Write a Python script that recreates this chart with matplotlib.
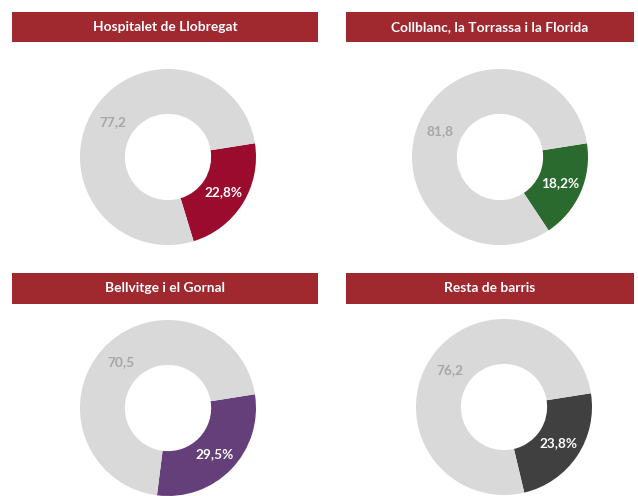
import matplotlib.pyplot as plt
import numpy as np

# values
titles = ['Hospitalet de Llobregat', 'Collblanc, la Torrassa i la Florida',
          'Bellvitge i el Gornal', 'Resta de barris']
highlight = [22.8, 18.2, 29.5, 23.8]
rest = [77.2, 81.8, 70.5, 76.2]
colors = ['#9b0b2d', '#2b6a2f', '#653f7a', '#404040']

W, H = 638, 496
plt.rcParams['font.family'] = ['Lato', 'DejaVu Sans']

fig = plt.figure(figsize=(W / 100, H / 100), dpi=100)

# header bars (pixel boxes: x0, y0, x1, y1)
headers = [(12, 12, 318, 42), (346, 12, 634, 42), (12, 273, 318, 304), (346, 273, 634, 304)]
centers = [(168, 157), (500, 157), (168, 408), (504, 407)]
R = 88

for i in range(4):
    x0, y0, x1, y1 = headers[i]
    hax = fig.add_axes([x0 / W, 1 - y1 / H, (x1 - x0) / W, (y1 - y0) / H])
    hax.set_facecolor('#a0282f')
    hax.set_xticks([])
    hax.set_yticks([])
    for s in hax.spines.values():
        s.set_visible(False)
    hax.text(0.5, 0.5, titles[i], color='white', fontsize=9.9, fontweight='bold',
             ha='center', va='center', transform=hax.transAxes)

    cx, cy = centers[i]
    ax = fig.add_axes([(cx - R) / W, 1 - (cy + R) / H, 2 * R / W, 2 * R / H])
    wedges, _ = ax.pie([highlight[i], rest[i]], colors=[colors[i], '#d9d9d9'],
                       startangle=9, counterclock=False, radius=1,
                       wedgeprops=dict(width=0.51, edgecolor='none'))
    ax.set_xlim(-1, 1)
    ax.set_ylim(-1, 1)
    ax.set_aspect('equal')
    for w in wedges:
        w.set_clip_on(False)

    labels = [f'{highlight[i]:.1f}%'.replace('.', ','), f'{rest[i]:.1f}'.replace('.', ',')]
    lcol = ['white', '#a6a6a6']
    for w, lab, c in zip(wedges, labels, lcol):
        ang = np.deg2rad((w.theta1 + w.theta2) / 2)
        r = 1 - 0.51 / 2
        ax.text(r * np.cos(ang), r * np.sin(ang), lab, color=c, fontsize=9.8,
                fontweight='bold', ha='center', va='center')

fig.savefig('out.png', dpi=100)
